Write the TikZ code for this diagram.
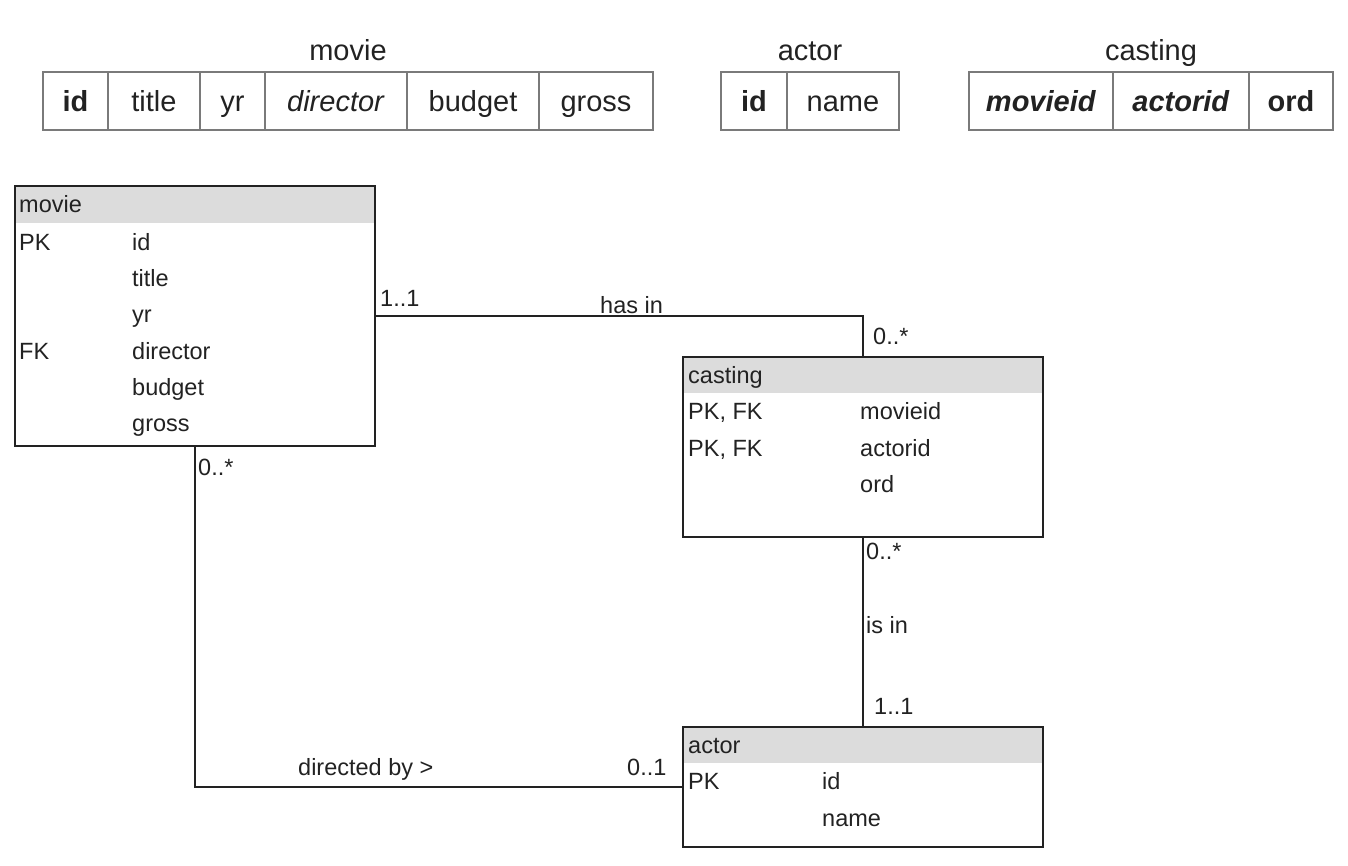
\documentclass[tikz,border=0pt]{standalone}
\usepackage{fontspec}
\setmainfont{Liberation Sans}
\definecolor{tgray}{HTML}{7A7A7A}
\definecolor{erhead}{HTML}{DCDCDC}
\definecolor{inkc}{HTML}{222222}
\begin{document}
\begin{tikzpicture}[x=1pt,y=-1pt,
  tcell/.style={draw=tgray, line width=2pt, inner xsep=0pt, inner ysep=0pt,
    text height=40pt, text depth=18pt, text=inkc, font=\fontsize{29}{34}\selectfont},
  ttitle/.style={anchor=base, inner sep=0pt, text=inkc, font=\fontsize{29}{34}\selectfont},
  erbox/.style={draw=inkc, line width=2pt, anchor=north west, inner sep=0pt, outer sep=0pt},
  ertxt/.style={anchor=base west, inner sep=0pt, text=inkc, font=\fontsize{23.5}{28}\selectfont},
  conn/.style={draw=inkc, line width=2pt},
  lbl/.style={anchor=base west, inner sep=0pt, text=inkc, font=\fontsize{23.5}{28}\selectfont}]
\useasboundingbox (0,0) rectangle (1348,866);

% ---- top relational tables ----
\node[ttitle] (tmovie) at (348,61) {movie};
\node[tcell, minimum width=65pt]  (tm1) at (75.5,101) {\textbf{id}};
\node[tcell, minimum width=92pt]  (tm2) at (154,101) {title};
\node[tcell, minimum width=65pt]  (tm3) at (232.5,101) {yr};
\node[tcell, minimum width=142pt] (tm4) at (336,101) {\textit{director}};
\node[tcell, minimum width=132pt] (tm5) at (473,101) {budget};
\node[tcell, minimum width=114pt] (tm6) at (596,101) {gross};

\node[ttitle] (tactor) at (810,61) {actor};
\node[tcell, minimum width=66pt]  (ta1) at (754,101) {\textbf{id}};
\node[tcell, minimum width=112pt] (ta2) at (843,101) {name};

\node[ttitle] (tcasting) at (1151,61) {casting};
\node[tcell, minimum width=144pt] (tc1) at (1041,101) {\textbf{\textit{movieid}}};
\node[tcell, minimum width=136pt] (tc2) at (1181,101) {\textbf{\textit{actorid}}};
\node[tcell, minimum width=84pt]  (tc3) at (1291,101) {\textbf{ord}};

% ---- ER header bands ----
\fill[erhead] (16,187) rectangle (374,223);
\fill[erhead] (684,358) rectangle (1042,393);
\fill[erhead] (684,728) rectangle (1042,763);

% ---- ER boxes ----
\node[erbox, minimum width=360pt, minimum height=260pt] (movieE) at (15,186) {};
\node[erbox, minimum width=360pt, minimum height=180pt] (castingE) at (683,357) {};
\node[erbox, minimum width=360pt, minimum height=120pt] (actorE) at (683,727) {};

% movie entity text
\node[ertxt] (mh) at (19,213) {movie};
\node[ertxt] (mpk) at (19,251) {PK};
\node[ertxt] (mid) at (132,251) {id};
\node[ertxt] (mtitle) at (132,287) {title};
\node[ertxt] (myr) at (132,323) {yr};
\node[ertxt] (mfk) at (19,359) {FK};
\node[ertxt] (mdir) at (132,359) {director};
\node[ertxt] (mbud) at (132,395) {budget};
\node[ertxt] (mgross) at (132,431) {gross};

% casting entity text
\node[ertxt] (ch) at (688,383) {casting};
\node[ertxt] (cpk1) at (688,419) {PK, FK};
\node[ertxt] (cmid) at (860,419) {movieid};
\node[ertxt] (cpk2) at (688,456) {PK, FK};
\node[ertxt] (caid) at (860,456) {actorid};
\node[ertxt] (cord) at (860,492) {ord};

% actor entity text
\node[ertxt] (ah) at (688,753) {actor};
\node[ertxt] (apk) at (688,789) {PK};
\node[ertxt] (aid) at (822,789) {id};
\node[ertxt] (aname) at (822,826) {name};

% ---- connectors ----
\draw[conn] (movieE.east) -| (castingE.north);
\draw[conn] (castingE.south) -- (actorE.north);
\draw[conn] (movieE.south) |- (actorE.west);

% ---- connector labels ----
\node[lbl] (l1) at (380,306) {1..1};
\node[lbl] (l2) at (600,313) {has in};
\node[lbl] (l3) at (873,344) {0..*};
\node[lbl] (l4) at (198,475) {0..*};
\node[lbl] (l5) at (298,775) {directed by >};
\node[lbl] (l6) at (627,775) {0..1};
\node[lbl] (l7) at (866,559) {0..*};
\node[lbl] (l8) at (866,633) {is in};
\node[lbl] (l9) at (874,714) {1..1};
\end{tikzpicture}
\end{document}
